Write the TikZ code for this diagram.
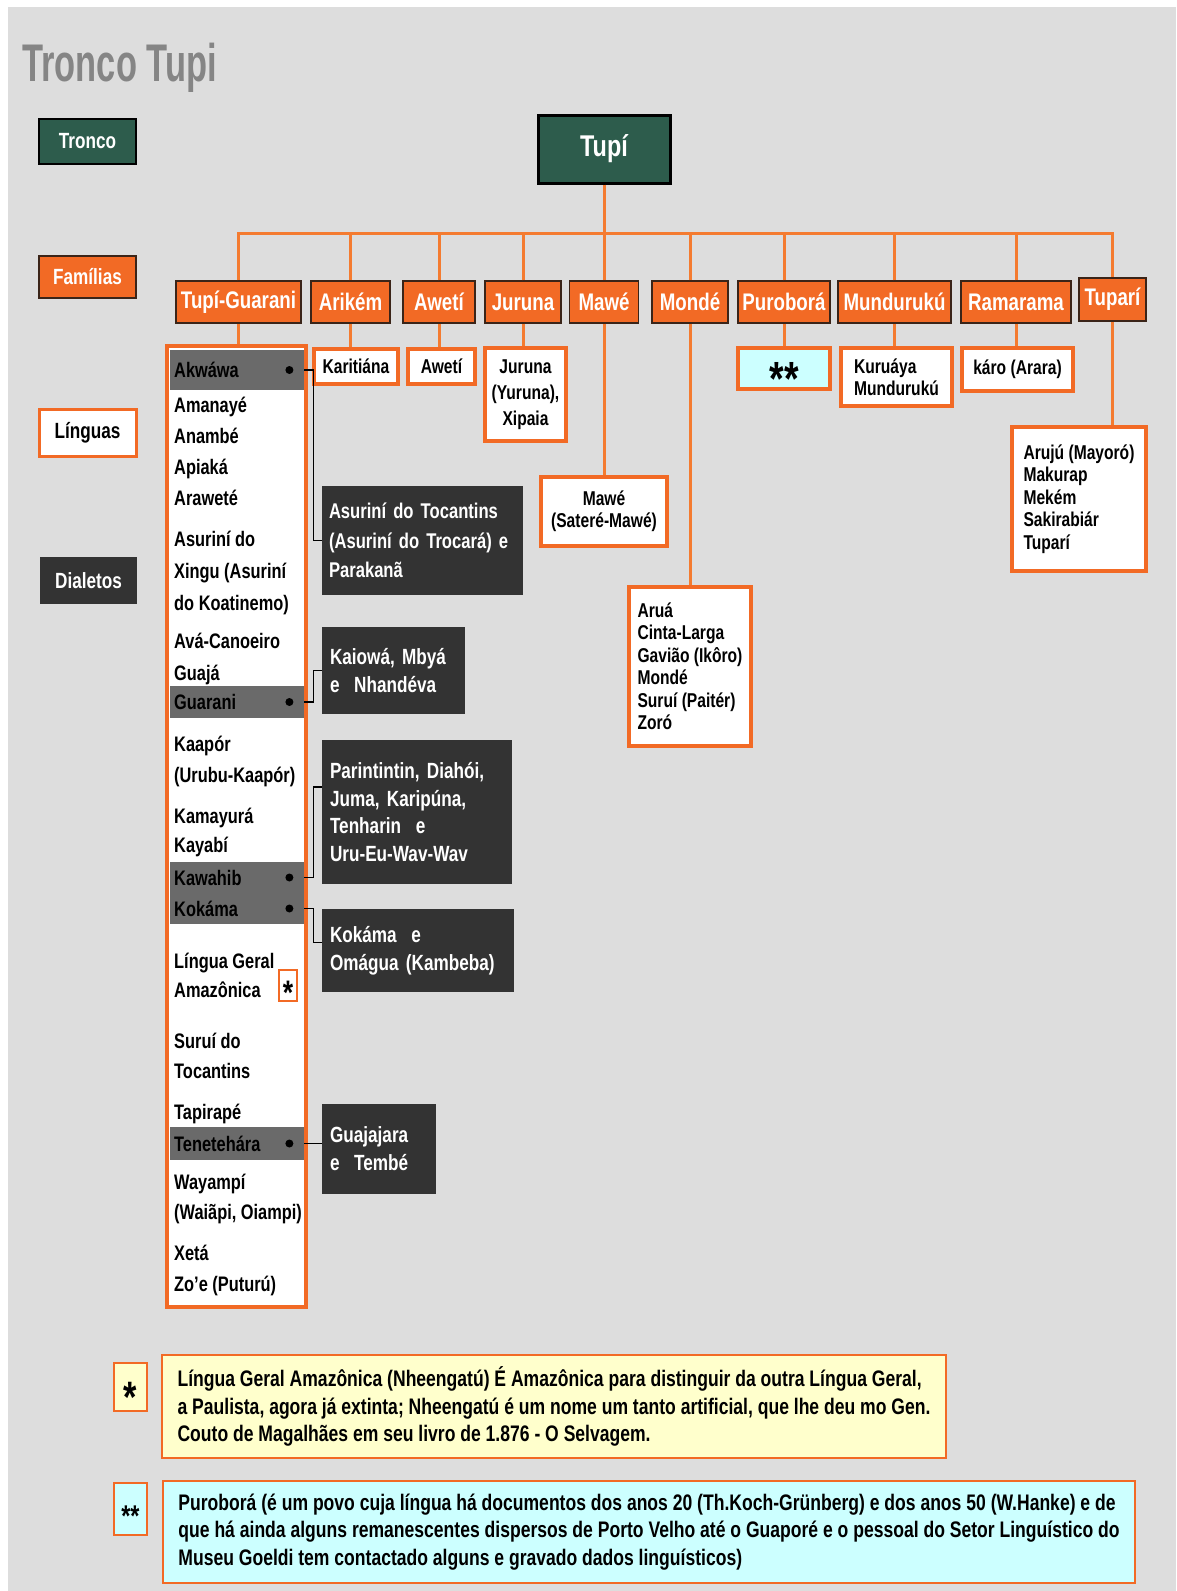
\documentclass[tikz,border=0pt]{standalone}
\usepackage{fontspec}
\setmainfont{Liberation Sans}[FakeStretch=0.78]
\newfontfamily\titlefont{Liberation Sans}[FakeStretch=0.65]

\definecolor{fundo}{HTML}{DDDDDD}
\definecolor{laranja}{HTML}{F26A25}
\definecolor{ramocor}{HTML}{F47B30}
\definecolor{verde}{HTML}{2D5C4C}
\definecolor{escuro}{HTML}{333333}
\definecolor{cinza}{HTML}{6A6A6A}
\definecolor{marrom}{HTML}{3A2418}
\definecolor{amarelo}{HTML}{FFFFCC}
\definecolor{ciano}{HTML}{CCFFFF}
\definecolor{titulocor}{HTML}{858585}

\begin{document}
\begin{tikzpicture}
	[x=1pt,y=-1pt,
	legenda/.style={line width=1.5pt,minimum width=97pt,minimum height=45pt,font=\fontsize{22}{24}\selectfont\bfseries},
	tronco/.style={fill=verde,draw=black,line width=3pt,text=white,minimum width=132pt,minimum height=68pt,font=\fontsize{30}{32}\selectfont\bfseries},
	familia/.style={fill=laranja,draw=marrom,line width=1.5pt,text=white,minimum height=42pt,inner sep=1pt,font=\fontsize{24}{26}\selectfont\bfseries},
	lingua/.style={fill=white,draw=laranja,line width=3.5pt,inner sep=3pt,font=\fontsize{20}{22}\selectfont\bfseries},
	linha/.style={fill=cinza,anchor=west,text width=126pt,inner xsep=4pt,text height=15pt,text depth=0pt,font=\fontsize{21}{24}\selectfont\bfseries},
	item/.style={anchor=west,inner sep=0pt,text height=15pt,text depth=0pt,font=\fontsize{21}{24}\selectfont\bfseries},
	dialeto/.style={fill=escuro,draw=black!80,line width=1.5pt,text=white,align=left,inner xsep=7pt,font=\fontsize{22}{28}\selectfont\bfseries},
	nota/.style={draw=laranja,line width=2pt,align=left,font=\fontsize{22.5}{27.5}\selectfont\bfseries},
	marca/.style={draw=laranja,line width=2pt,inner sep=0pt,text depth=0pt,font=\fontsize{#1}{#1}\selectfont\bfseries},
	ramo/.style={draw=ramocor,line width=3pt},
	chave/.style={draw=black,line width=1.3pt}]

	\useasboundingbox (0,0) rectangle (1176,1591);
	\fill[white] (0,0) rectangle (1176,1591);
	\fill[fundo] (8,7) rectangle (1176,1591);

	% legenda
	\node[anchor=base west,inner sep=0pt,text=titulocor,font={\titlefont\bfseries\fontsize{53}{55}\selectfont}] (titulo) at (22,81) {Tronco Tupi};
	\node[legenda,fill=verde,draw=black,text=white] (ltronco) at (87.5,141.5) {Tronco};
	\node[legenda,fill=laranja,draw=marrom,text=white,minimum height=42pt] (lfamilias) at (87.5,277) {Famílias};
	\node[legenda,fill=white,draw=laranja,line width=3pt,minimum height=47pt] (llinguas) at (87.5,432.5) {Línguas};
	\node[legenda,fill=escuro,draw=black!80,text=white,minimum width=95pt] (ldialetos) at (88.5,580.5) {Dialetos};

	% tronco e familias
	\node[tronco] (tupi) at (604,149) {Tupí};
	\coordinate (barra) at (604,233);

	\node[familia,minimum width=125pt] (tupiguarani) at (238.5,302) {Tupí-Guarani};
	\node[familia,minimum width=79pt] (arikem) at (350.5,302) {Arikém};
	\node[familia,minimum width=72pt] (aweti) at (439,302) {Awetí};
	\node[familia,minimum width=76pt] (juruna) at (523,302) {Juruna};
	\node[familia,minimum width=69pt] (mawe) at (604,302) {Mawé};
	\node[familia,minimum width=76pt] (monde) at (690,302) {Mondé};
	\node[familia,minimum width=92pt] (purobora) at (784,302) {Puroborá};
	\node[familia,minimum width=113pt] (munduruku) at (894.5,302) {Mundurukú};
	\node[familia,minimum width=110pt] (ramarama) at (1016,302) {Ramarama};
	\node[familia,minimum width=67pt,minimum height=43pt] (tupari) at (1112.5,299.5) {Tuparí};

	% linguas
	\node[lingua,minimum width=139pt,minimum height=961pt] (colTG) at (236.5,826.5) {};
	\node[lingua,minimum width=84pt,minimum height=35pt] (karitiana) at (356,366.5) {Karitiána};
	\node[lingua,minimum width=67pt,minimum height=35pt] (awetil) at (441.5,366.5) {Awetí};
	\node[lingua,minimum width=81pt,minimum height=93pt,align=center,font=\fontsize{20}{26}\selectfont\bfseries] (jurunal) at (525.5,394.5) {Juruna\\(Yuruna),\\Xipaia};
	\node[lingua,fill=ciano,minimum width=92pt,minimum height=41pt,inner sep=0pt,text height=26pt,text depth=0pt,font=\fontsize{48}{48}\selectfont\bfseries] (puroboral) at (784,368.5) {\raisebox{-0.3em}{**}};
	\node[lingua,minimum width=111pt,minimum height=58pt,align=left] (mundurukul) at (896.5,377) {Kuruáya\\Mundurukú};
	\node[lingua,minimum width=111pt,minimum height=43pt] (ramaramal) at (1017.5,369.5) {káro (Arara)};
	\node[lingua,minimum width=126pt,minimum height=69pt,align=center] (mawel) at (604,511.5) {Mawé\\(Sateré-Mawé)};
	\node[lingua,minimum width=122pt,minimum height=159pt,align=left,font=\fontsize{20}{22.5}\selectfont\bfseries] (mondel) at (690,666.5) {Aruá\\Cinta-Larga\\Gavião (Ikôro)\\Mondé\\Suruí (Paitér)\\Zoró};
	\node[lingua,minimum width=134pt,minimum height=144pt,align=left,font=\fontsize{20}{22.5}\selectfont\bfseries] (taparil) at (1079,499) {Arujú (Mayoró)\\Makurap\\Mekém\\Sakirabiár\\Tuparí};

	% lista tupi-guarani
	\node[linha,minimum height=40pt] (akwawa) at (170,370) {Akwáwa};
	\node[linha,minimum height=32pt] (guarani) at (170,702) {Guarani};
	\node[linha,minimum height=31pt] (kawahib) at (170,877.5) {Kawahib};
	\node[linha,minimum height=31pt] (kokama) at (170,908.5) {Kokáma};
	\node[linha,minimum height=33pt] (tenetehara) at (170,1143.5) {Tenetehára};
	\foreach \r in {akwawa,guarani,kawahib,kokama,tenetehara}
		\fill ([xshift=-15pt]\r.east) circle[radius=4pt];
	\foreach \y/\nome [count=\i] in {405/Amanayé,436/Anambé,467/Apiaká,498/Araweté,
		539/Asuriní do,571/Xingu (Asuriní,603/do Koatinemo),641/Avá-Canoeiro,673/Guajá,
		744/Kaapór,775/(Urubu-Kaapór),816/Kamayurá,845/Kayabí,961/Língua Geral,990/Amazônica,
		1041/Suruí do,1071/Tocantins,1112/Tapirapé,1182/Wayampí,1212/{(Waiãpi, Oiampi)},
		1253/Xetá,1284/Zo'e (Puturú)}
		\node[item] (tg\i) at (174,\y) {\nome};
	\node[marca=34,fill=white,line width=1.5pt,minimum width=18pt,minimum height=31pt,text height=18pt] (estrelaTG) at (288,985.5) {\raisebox{-0.3em}{*}};

	% dialetos
	\node[dialeto,text width=187pt,inner xsep=6pt,minimum height=107pt,font=\fontsize{21.3}{29.5}\selectfont\bfseries] (dA) at (422.5,540.5) {Asuriní do Tocantins\\(Asuriní do Trocará) e\\Parakanã};
	\node[dialeto,text width=127pt,minimum height=85pt] (dB) at (393.5,670.5) {Kaiowá, Mbyá\\e~ Nhandéva};
	\node[dialeto,text width=174pt,minimum height=142pt,font=\fontsize{22}{27.5}\selectfont\bfseries] (dC) at (417,812) {Parintintin, Diahói,\\Juma, Karipúna,\\Tenharin~ e\\Uru-Eu-Wav-Wav};
	\node[dialeto,text width=176pt,minimum height=81pt] (dD) at (418,950.5) {Kokáma~ e\\Omágua (Kambeba)};
	\node[dialeto,text width=98pt,minimum height=88pt] (dE) at (379,1149) {Guajajara\\e~ Tembé};

	% notas
	\node[marca=44,fill=amarelo,minimum width=33pt,minimum height=48pt,text height=24pt] (estrela1) at (130.5,1387) {\raisebox{-0.3em}{*}};
	\node[nota,fill=amarelo,minimum width=784pt,minimum height=103pt] (nota1) at (554,1406.5) {Língua Geral Amazônica (Nheengatú) É Amazônica para distinguir da outra Língua Geral,\\a Paulista, agora já extinta; Nheengatú é um nome um tanto artificial, que lhe deu mo Gen.\\Couto de Magalhães em seu livro de 1.876 - O Selvagem.};
	\node[marca=30,fill=ciano,minimum width=33pt,minimum height=52pt,text height=16pt] (estrela2) at (130.5,1509) {\raisebox{-0.3em}{**}};
	\node[nota,fill=ciano,minimum width=972pt,minimum height=102pt] (nota2) at (649,1532) {Puroborá (é um povo cuja língua há documentos dos anos 20 (Th.Koch-Grünberg) e dos anos 50 (W.Hanke) e de\\que há ainda alguns remanescentes dispersos de Porto Velho até o Guaporé e o pessoal do Setor Linguístico do\\Museu Goeldi tem contactado alguns e gravado dados linguísticos)};

	% ramos
	\draw[ramo] (tupi.south) -- (mawe.north);
	\draw[ramo] (tupiguarani.north) |- (barra) -| (tupari.north);
	\foreach \f in {arikem,aweti,juruna,monde,purobora,munduruku,ramarama}
		\draw[ramo] (\f.north) -- (\f.north |- barra);
	\foreach \f/\l in {tupiguarani/colTG,arikem/karitiana,aweti/awetil,juruna/jurunal,mawe/mawel,
		monde/mondel,purobora/puroboral,munduruku/mundurukul,ramarama/ramaramal,tupari/taparil}
		\draw[ramo] (\f.south) -- (\f.south |- \l.north);

	% chaves dos dialetos
	\draw[chave] (akwawa.east) -- ++(9,0) |- (dA.west);
	\draw[chave] (guarani.east) -- ++(9,0) |- (dB.west);
	\draw[chave] (kawahib.east) -- ++(9,0) |- ([yshift=25pt]dC.west);
	\draw[chave] (kokama.east) -- ++(9,0) |- ([yshift=8pt]dD.west);
	\draw[chave] (tenetehara.east) -- (tenetehara.east -| dE.west);
\end{tikzpicture}
\end{document}
